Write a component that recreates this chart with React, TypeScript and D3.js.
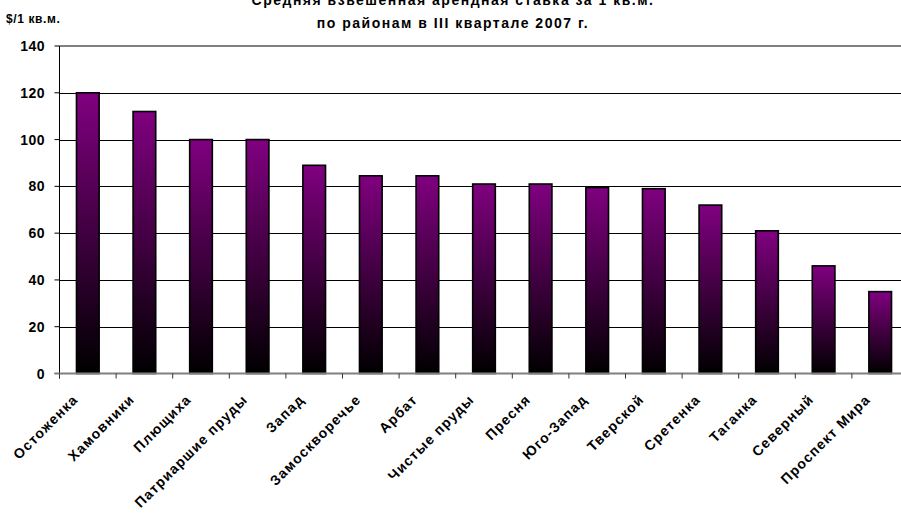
import * as d3 from "d3";
import * as React from "react";

const districts = [
  "Остоженка", "Хамовники", "Плющиха", "Патриаршие пруды", "Запад",
  "Замоскворечье", "Арбат", "Чистые пруды", "Пресня", "Юго-Запад",
  "Тверской", "Сретенка", "Таганка", "Северный", "Проспект Мира",
];
const rents = [120, 112, 100, 100, 89, 84.5, 84.5, 81, 81, 79.5, 79, 72, 61, 46, 35];
const yTicks = [0, 20, 40, 60, 80, 100, 120, 140];
const titleLines = [
  "Средняя взвешенная арендная ставка за 1 кв.м.",
  "по районам в III квартале 2007 г.",
];
const unitLabel = "$/1 кв.м.";

const width = 901;
const height = 515;
const marginLeft = 59.5;
const marginTop = 46;
const plotBottom = 373.5;
const step = 56.6;
const font = "Arial, 'Liberation Sans', sans-serif";

export default function App() {
  const x = d3.scaleBand<string>()
    .domain(districts)
    .range([marginLeft, marginLeft + step * districts.length])
    .paddingInner(0.6)
    .paddingOuter(0.3);
  const y = d3.scaleLinear().domain([0, 140]).range([plotBottom, marginTop]);
  const slot = x.step();
  const right = marginLeft + slot * districts.length;

  return (
    <div style={{ position: "absolute", left: 0, top: 0 }}>
      <svg width={width} height={height} style={{ display: "block", background: "#fff" }}>
        <defs>
          <linearGradient id="barFill" x1="0" y1="0" x2="0" y2="1">
            <stop offset="0%" stopColor="#800080" />
            <stop offset="100%" stopColor="#000000" />
          </linearGradient>
        </defs>

        {titleLines.map((t, i) => (
          <text key={"title" + i} x={453} y={5 + i * 23} textAnchor="middle" letterSpacing={1.5}
            fontFamily={font} fontWeight="bold" fontSize={14}>{t}</text>
        ))}
        <text x={6} y={23} fontFamily={font} fontWeight="bold" fontSize={12} letterSpacing={0.6}>{unitLabel}</text>

        {/* grid */}
        {yTicks.filter((v) => v > 0 && v < 140).map((v) => (
          <line key={"grid" + v} x1={marginLeft} x2={right} y1={Math.round(y(v)) + 0.5} y2={Math.round(y(v)) + 0.5}
            stroke="#000" strokeWidth={1} />
        ))}
        <line x1={marginLeft} x2={right} y1={y(140)} y2={y(140)} stroke="#808080" strokeWidth={2} />

        {/* bars */}
        {districts.map((d, i) => (
          <rect key={"bar" + i} x={x(d)} y={y(rents[i])} width={x.bandwidth()} height={plotBottom - y(rents[i])}
            fill="url(#barFill)" stroke="#000" strokeWidth={1.6} />
        ))}

        {/* y axis */}
        <line x1={marginLeft} x2={marginLeft} y1={marginTop} y2={plotBottom + 5} stroke="#000" strokeWidth={1} />
        {yTicks.map((v) => (
          <g key={"yt" + v}>
            <line x1={marginLeft - 5} x2={marginLeft} y1={y(v)} y2={y(v)} stroke="#000" strokeWidth={1} />
            <text x={45} y={y(v) + 5} textAnchor="end" fontFamily={font} fontWeight="bold" fontSize={14}
              letterSpacing={0.5}>{v}</text>
          </g>
        ))}

        {/* x axis */}
        <line x1={marginLeft - 5} x2={right} y1={plotBottom} y2={plotBottom} stroke="#808080" strokeWidth={2} />
        {d3.range(districts.length + 1).map((i) => (
          <line key={"xt" + i} x1={marginLeft + i * slot} x2={marginLeft + i * slot} y1={plotBottom} y2={plotBottom + 5}
            stroke="#333" strokeWidth={1} />
        ))}
        {districts.map((d, i) => {
          const cx = (x(d) as number) + x.bandwidth() / 2;
          return (
            <text key={"xl" + i} transform={`translate(${cx - 9},${plotBottom + 27}) rotate(-45)`} textAnchor="end"
              fontFamily={font} fontWeight="bold" fontSize={14} letterSpacing={1.1}>{d}</text>
          );
        })}
      </svg>
    </div>
  );
}
